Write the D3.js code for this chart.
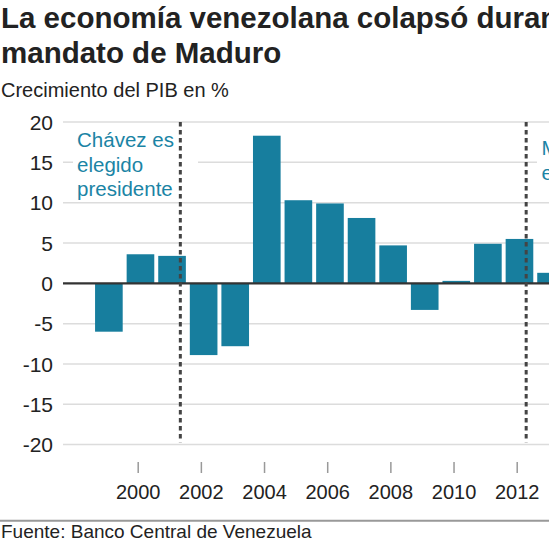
<!DOCTYPE html>
<html>
<head>
<meta charset="utf-8">
<script src="https://cdn.jsdelivr.net/npm/d3@7"></script>
<style>
  body { margin: 0; background: #fff; }
  text { font-family: "Liberation Sans", Arial, sans-serif; }
</style>
</head>
<body>
<script>
// data
var years = [1999, 2000, 2001, 2002, 2003, 2004, 2005, 2006, 2007, 2008, 2009, 2010, 2011, 2012, 2013];
var growth = [-6.0, 3.6, 3.4, -8.9, -7.8, 18.3, 10.3, 9.9, 8.1, 4.7, -3.3, 0.3, 4.9, 5.5, 1.3];
var yTicks = [20, 15, 10, 5, 0, -5, -10, -15, -20];
var xTicks = [2000, 2002, 2004, 2006, 2008, 2010, 2012];
var eventYears = [2001.35, 2012.3];
var eventLabels = [["Chávez es", "elegido", "presidente"], ["Maduro es", "elegido"]];

var width = 549, height = 549;
var teal = "#177e9e";

var svg = d3.select('body').append('svg')
    .attr('width', width)
    .attr('height', height);

var x = d3.scaleLinear().domain([2000, 2012]).range([137.7, 516.7]);
var y = d3.scaleLinear().domain([-20, 20]).range([444.6, 122]);

// titles
svg.append('text')
    .attr('x', 1).attr('y', 28)
    .style('font-size', '29.5px').style('font-weight', 'bold').style('fill', '#222')
    .text('La economía venezolana colapsó durante el');
svg.append('text')
    .attr('x', 1).attr('y', 63)
    .style('font-size', '29.5px').style('font-weight', 'bold').style('fill', '#222')
    .text('mandato de Maduro');
svg.append('text')
    .attr('x', 1).attr('y', 97)
    .style('font-size', '20px').style('fill', '#222')
    .text('Crecimiento del PIB en %');

// gridlines
svg.selectAll('line.grid')
    .data(yTicks.filter(function (d) { return d !== 0; }))
    .enter().append('line')
    .attr('class', 'grid')
    .attr('x1', 63).attr('x2', width)
    .attr('y1', function (d) { return y(d); })
    .attr('y2', function (d) { return y(d); })
    .attr('stroke', '#dcdcdc')
    .attr('stroke-width', 1.5);

// y labels
svg.selectAll('text.ylab')
    .data(yTicks)
    .enter().append('text')
    .attr('class', 'ylab')
    .attr('x', 53)
    .attr('y', function (d) { return y(d); })
    .attr('dy', '0.36em')
    .attr('text-anchor', 'end')
    .style('font-size', '21px').style('fill', '#222')
    .text(function (d) { return d; });

// event labels with white boxes
var offsets = [[-103.3, 147, 73, 198], [15.4, 155, 537, 560]];
eventYears.forEach(function (ev, i) {
    var lines = eventLabels[i];
    var tx = x(ev) + offsets[i][0];
    var g = svg.append('g');
    var box = g.append('rect').attr('fill', '#fff');
    var t = g.append('text')
        .attr('x', tx).attr('y', offsets[i][1])
        .style('font-size', '20.5px').style('fill', '#1b84a5');
    t.selectAll('tspan')
        .data(lines)
        .enter().append('tspan')
        .attr('x', tx)
        .attr('dy', function (d, j) { return j === 0 ? 0 : 24.5; })
        .text(function (d) { return d; });
    var bb = t.node().getBBox();
    box.attr('x', offsets[i][2]).attr('y', bb.y - 1)
        .attr('width', offsets[i][3] - offsets[i][2])
        .attr('height', bb.height + 2);
});

// bars
svg.selectAll('rect.bar')
    .data(years)
    .enter().append('rect')
    .attr('class', 'bar')
    .attr('x', function (d) { return x(d - 0.35); })
    .attr('width', function (d) { return x(d + 0.525) - x(d - 0.35); })
    .attr('y', function (d, i) { return y(Math.max(0, growth[i])); })
    .attr('height', function (d, i) { return Math.abs(y(growth[i]) - y(0)); })
    .attr('fill', teal);

// zero line
svg.append('line')
    .attr('x1', 63).attr('x2', width)
    .attr('y1', y(0)).attr('y2', y(0))
    .attr('stroke', '#333').attr('stroke-width', 2.2);

// dashed event lines
svg.selectAll('line.event')
    .data(eventYears)
    .enter().append('line')
    .attr('class', 'event')
    .attr('x1', function (d) { return x(d); })
    .attr('x2', function (d) { return x(d); })
    .attr('y1', y(20)).attr('y2', y(-19.7))
    .attr('stroke', '#444')
    .attr('stroke-width', 3)
    .attr('stroke-dasharray', '4.5,3.5');

// x axis ticks and labels
var xAxis = d3.axisBottom(x)
    .tickValues(xTicks)
    .tickFormat(d3.format('d'))
    .tickSize(11)
    .tickPadding(12);
var ax = svg.append('g')
    .attr('transform', 'translate(0,462)')
    .call(xAxis);
ax.select('.domain').remove();
ax.selectAll('.tick line').attr('stroke', '#999').attr('stroke-width', 1.5);
ax.selectAll('.tick text')
    .style('font-size', '20px')
    .style('font-family', '"Liberation Sans", Arial, sans-serif')
    .attr('fill', '#222');

// source
svg.append('line')
    .attr('x1', 0).attr('x2', width)
    .attr('y1', 520.7).attr('y2', 520.7)
    .attr('stroke', '#999').attr('stroke-width', 2);
svg.append('text')
    .attr('x', 1).attr('y', 538)
    .style('font-size', '19px').style('fill', '#222')
    .text('Fuente: Banco Central de Venezuela');
</script>
</body>
</html>
